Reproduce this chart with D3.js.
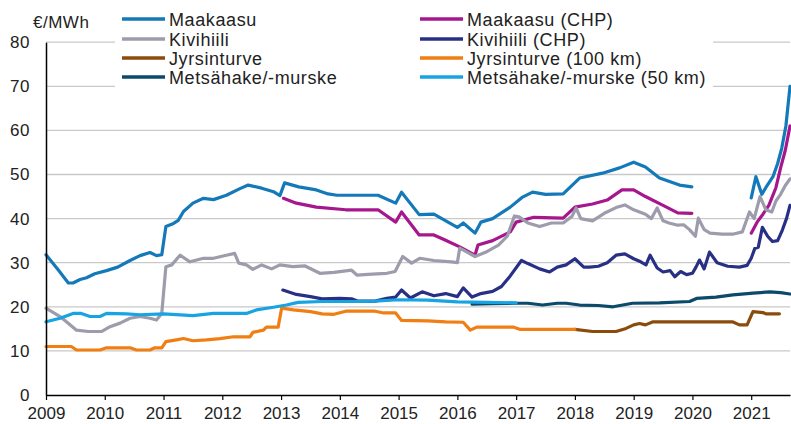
<!DOCTYPE html>
<html><head><meta charset="utf-8">
<script src="https://cdn.jsdelivr.net/npm/d3@7/dist/d3.min.js"></script>
<style>
body{margin:0;background:#fff;}
svg{display:block;font-family:"Liberation Sans",Arial,sans-serif;}
</style></head>
<body><svg id="c" width="791" height="424"></svg>
<script>
const seriesNames = ["Maakaasu","Maakaasu (CHP)","Kivihiili","Kivihiili (CHP)","Jyrsinturve","Jyrsinturve (100 km)","Metsähake/-murske","Metsähake/-murske (50 km)"];
const seriesColors = ["#1479b8","#a6178e","#9c9cac","#283086","#8b4b0c","#f07e12","#0b4a6a","#18a4e2"];
const yearTicks = [2009,2010,2011,2012,2013,2014,2015,2016,2017,2018,2019,2020,2021];
const valueTicks = [0,10,20,30,40,50,60,70,80];
const unitLabel = "€/MWh";

const maakaasu = [[2009.0,31.8],[2009.2,28.5],[2009.38,25.4],[2009.46,25.4],[2009.58,26.2],[2009.69,26.6],[2009.83,27.5],[2010.03,28.2],[2010.22,29.0],[2010.43,30.5],[2010.6,31.6],[2010.77,32.3],[2010.88,31.6],[2010.97,31.8],[2011.04,38.2],[2011.17,38.9],[2011.25,39.6],[2011.34,41.6],[2011.5,43.5],[2011.68,44.6],[2011.85,44.3],[2012.07,45.3],[2012.3,46.8],[2012.44,47.6],[2012.67,46.9],[2012.87,46.1],[2012.98,45.2],[2013.06,48.1],[2013.3,47.2],[2013.6,46.5],[2013.8,45.6],[2013.95,45.3],[2014.65,45.3],[2014.95,43.5],[2015.05,46.0],[2015.35,40.9],[2015.6,41.0],[2016.0,38.0],[2016.1,39.0],[2016.3,36.7],[2016.4,39.2],[2016.6,40.0],[2016.9,42.6],[2017.1,44.8],[2017.28,46.0],[2017.5,45.5],[2017.8,45.6],[2018.08,49.2],[2018.47,50.3],[2018.76,51.5],[2019.0,52.8],[2019.2,51.7],[2019.44,49.2],[2019.78,47.6],[2019.99,47.2]];
const maakaasu2 = [[2021.0,44.7],[2021.08,49.5],[2021.18,45.5],[2021.27,47.5],[2021.37,49.5],[2021.45,52.5],[2021.52,56.0],[2021.59,61.0],[2021.66,70.0]];
const maakaasuChp = [[2013.04,44.6],[2013.26,43.5],[2013.6,42.6],[2014.1,42.0],[2014.65,42.0],[2014.95,39.2],[2015.05,41.5],[2015.35,36.3],[2015.6,36.3],[2015.8,35.1],[2016.04,33.6],[2016.3,31.7],[2016.35,34.0],[2016.6,35.0],[2016.9,37.0],[2017.0,39.2],[2017.3,40.3],[2017.8,40.1],[2018.0,42.6],[2018.3,43.3],[2018.55,44.2],[2018.8,46.5],[2019.0,46.5],[2019.2,45.0],[2019.5,43.0],[2019.75,41.3],[2019.99,41.2]];
const maakaasuChp2 = [[2021.0,36.7],[2021.1,39.2],[2021.2,41.0],[2021.3,43.0],[2021.42,47.0],[2021.5,51.5],[2021.58,55.5],[2021.66,61.0]];
const kivihiili = [[2009.0,19.7],[2009.24,17.8],[2009.52,14.7],[2009.72,14.4],[2009.95,14.4],[2010.09,15.5],[2010.26,16.3],[2010.43,17.4],[2010.6,17.8],[2010.77,17.4],[2010.88,17.0],[2010.97,18.5],[2011.04,29.1],[2011.14,29.5],[2011.28,31.7],[2011.45,30.2],[2011.68,31.0],[2011.85,31.0],[2012.07,31.7],[2012.21,32.1],[2012.28,29.9],[2012.41,29.5],[2012.52,28.5],[2012.67,29.5],[2012.84,28.6],[2012.98,29.5],[2013.2,29.1],[2013.4,29.3],[2013.66,27.6],[2013.9,27.8],[2014.2,28.3],[2014.29,27.2],[2014.55,27.4],[2014.8,27.6],[2014.94,28.0],[2015.07,31.4],[2015.22,29.9],[2015.36,31.0],[2015.6,30.5],[2015.9,30.2],[2016.0,30.0],[2016.04,33.3],[2016.15,32.5],[2016.3,31.4],[2016.5,32.5],[2016.7,34.0],[2016.85,36.0],[2016.97,40.6],[2017.05,40.4],[2017.2,39.0],[2017.4,38.2],[2017.6,39.0],[2017.8,39.0],[2017.95,40.5],[2018.02,42.4],[2018.1,40.0],[2018.3,39.5],[2018.5,41.2],[2018.7,42.5],[2018.85,43.1],[2019.0,42.0],[2019.2,41.0],[2019.3,40.0],[2019.4,42.4],[2019.5,39.5],[2019.6,39.0],[2019.75,38.5],[2019.85,38.6],[2019.95,37.5],[2020.05,36.0],[2020.1,40.1],[2020.2,37.5],[2020.3,36.7],[2020.5,36.5],[2020.7,36.5],[2020.85,37.0],[2020.97,41.5],[2021.05,40.0],[2021.15,45.0],[2021.25,42.0],[2021.35,41.5],[2021.42,44.0],[2021.5,45.5],[2021.58,47.5],[2021.66,49.0]];
const kivihiiliChp = [[2013.03,23.8],[2013.26,22.8],[2013.5,22.3],[2013.7,21.8],[2014.0,21.9],[2014.2,21.8],[2014.3,21.3],[2014.6,21.3],[2014.8,21.9],[2014.95,22.2],[2015.05,23.8],[2015.2,22.0],[2015.4,23.4],[2015.6,22.5],[2015.8,23.0],[2016.0,22.3],[2016.1,24.3],[2016.25,22.2],[2016.4,23.0],[2016.6,23.5],[2016.75,24.6],[2016.9,27.0],[2017.09,30.5],[2017.2,29.8],[2017.4,28.6],[2017.57,27.9],[2017.7,29.0],[2017.85,29.5],[2018.0,30.9],[2018.15,29.0],[2018.25,29.0],[2018.4,29.2],[2018.55,30.0],[2018.7,31.7],[2018.85,32.0],[2019.0,30.9],[2019.12,30.2],[2019.21,29.5],[2019.28,31.7],[2019.4,28.8],[2019.5,27.9],[2019.62,28.2],[2019.7,26.8],[2019.8,28.0],[2019.9,27.3],[2020.0,27.6],[2020.06,29.0],[2020.12,30.6],[2020.2,28.6],[2020.29,32.4],[2020.42,30.0],[2020.6,29.2],[2020.8,29.0],[2020.93,29.4],[2021.0,31.0],[2021.06,33.2],[2021.12,33.5],[2021.19,38.0],[2021.28,36.0],[2021.36,34.8],[2021.45,35.0],[2021.53,37.4],[2021.6,40.0],[2021.66,43.0]];
const jyrsinturve = [[2018.0,14.9],[2018.3,14.4],[2018.7,14.4],[2018.87,15.1],[2019.0,15.9],[2019.1,16.2],[2019.2,15.9],[2019.33,16.6],[2020.68,16.6],[2020.8,15.9],[2020.93,15.9],[2021.03,18.9],[2021.2,18.7],[2021.25,18.4],[2021.48,18.4]];
const jyrsinturve100 = [[2009.0,11.0],[2009.43,11.0],[2009.52,10.2],[2009.92,10.2],[2010.03,10.7],[2010.43,10.7],[2010.54,10.2],[2010.77,10.2],[2010.85,10.7],[2010.97,10.7],[2011.04,12.1],[2011.22,12.5],[2011.34,12.8],[2011.5,12.3],[2011.73,12.5],[2011.96,12.8],[2012.19,13.2],[2012.47,13.2],[2012.52,14.2],[2012.7,14.7],[2012.75,15.4],[2012.95,15.4],[2013.01,19.7],[2013.21,19.3],[2013.5,18.9],[2013.7,18.4],[2013.9,18.3],[2014.1,19.0],[2014.6,19.0],[2014.75,18.6],[2014.95,18.6],[2015.05,16.9],[2015.5,16.8],[2015.8,16.6],[2016.1,16.5],[2016.22,14.7],[2016.33,15.4],[2016.95,15.4],[2017.06,14.9],[2018.0,14.9]];
const metsahake = [[2016.25,20.6],[2016.6,20.7],[2017.0,20.8],[2017.2,20.8],[2017.45,20.4],[2017.7,20.8],[2017.85,20.8],[2018.08,20.4],[2018.4,20.3],[2018.65,20.0],[2018.98,20.8],[2019.44,20.9],[2019.95,21.2],[2020.07,21.9],[2020.4,22.2],[2020.69,22.7],[2021.03,23.1],[2021.32,23.4],[2021.5,23.2],[2021.66,22.9]];
const metsahake50 = [[2009.0,16.6],[2009.24,17.4],[2009.46,18.5],[2009.6,18.5],[2009.75,17.8],[2009.92,17.8],[2010.03,18.5],[2010.37,18.4],[2010.6,18.2],[2011.0,18.4],[2011.5,18.0],[2011.85,18.5],[2012.41,18.5],[2012.58,19.3],[2012.87,19.9],[2013.09,20.4],[2013.29,21.0],[2013.7,21.2],[2014.2,21.2],[2014.6,21.3],[2015.0,21.6],[2015.5,21.5],[2016.0,21.1],[2016.5,21.0],[2017.0,20.9]];

const lineData = [
  {s:0, pts:maakaasu},{s:0, pts:maakaasu2},
  {s:1, pts:maakaasuChp},{s:1, pts:maakaasuChp2},
  {s:2, pts:kivihiili},
  {s:3, pts:kivihiiliChp},
  {s:4, pts:jyrsinturve},
  {s:5, pts:jyrsinturve100},
  {s:6, pts:metsahake},
  {s:7, pts:metsahake50}
];

const svg = d3.select("#c");
const x = d3.scaleLinear().domain([2009, 2021.66]).range([46, 790]);
const y = d3.scaleLinear().domain([0, 80]).range([395, 42.2]);

// grid
svg.append("g").selectAll("line").data(valueTicks.filter(v=>v>0)).join("line")
  .attr("x1",46).attr("x2",790).attr("y1",d=>y(d)).attr("y2",d=>y(d))
  .attr("stroke","#c9c9c9").attr("stroke-width",1.3);

// lines
const line = d3.line().x(d=>x(d[0])).y(d=>y(d[1]));
svg.append("g").selectAll("path").data(lineData).join("path")
  .attr("d",d=>line(d.pts)).attr("fill","none")
  .attr("stroke",d=>seriesColors[d.s]).attr("stroke-width",3.2)
  .attr("stroke-linejoin","round").attr("stroke-linecap","round");

// axes
const xAxis = d3.axisBottom(x).tickValues(yearTicks).tickFormat(d3.format("d")).tickSize(5).tickSizeOuter(0);
const gx = svg.append("g").attr("transform","translate(0,395)").call(xAxis);
gx.select(".domain").attr("stroke","#000").attr("stroke-width",1.5);
gx.selectAll(".tick line").attr("stroke","#000").attr("stroke-width",1.2);
gx.selectAll(".tick text").attr("font-size",17).attr("fill","#222").attr("dy","0.95em").attr("font-family","Liberation Sans, Arial, sans-serif");

const yAxis = d3.axisLeft(y).tickValues(valueTicks).tickSize(0).tickSizeOuter(0).tickPadding(16);
const gy = svg.append("g").attr("transform","translate(46,0)").call(yAxis);
gy.select(".domain").attr("stroke","#000").attr("stroke-width",1.5);
gy.selectAll(".tick text").attr("font-size",17).attr("fill","#222").attr("letter-spacing","0.6px").attr("font-family","Liberation Sans, Arial, sans-serif");

svg.append("text").attr("x",33).attr("y",28).attr("font-size",17).attr("fill","#222").attr("letter-spacing","0.5px").text(unitLabel);

// legend
svg.append("rect").attr("x",115).attr("y",0).attr("width",598).attr("height",91).attr("fill","#fff");
const legRows = [19,39,58,77];
const legItems = seriesNames.map((n,i)=>({n, i, col: i%2, row: Math.floor(i/2)}));
const lg = svg.append("g").selectAll("g").data(legItems).join("g")
  .attr("transform",d=>`translate(${d.col? 420:122},${legRows[d.row]})`);
lg.append("line").attr("x1",0).attr("x2",43).attr("y1",0).attr("y2",0)
  .attr("stroke",d=>seriesColors[d.i]).attr("stroke-width",3.5);
lg.append("text").attr("x",47).attr("y",6.5).attr("font-size",18).attr("fill","#222")
  .attr("letter-spacing","0.6px").text(d=>d.n);
</script></body></html>
